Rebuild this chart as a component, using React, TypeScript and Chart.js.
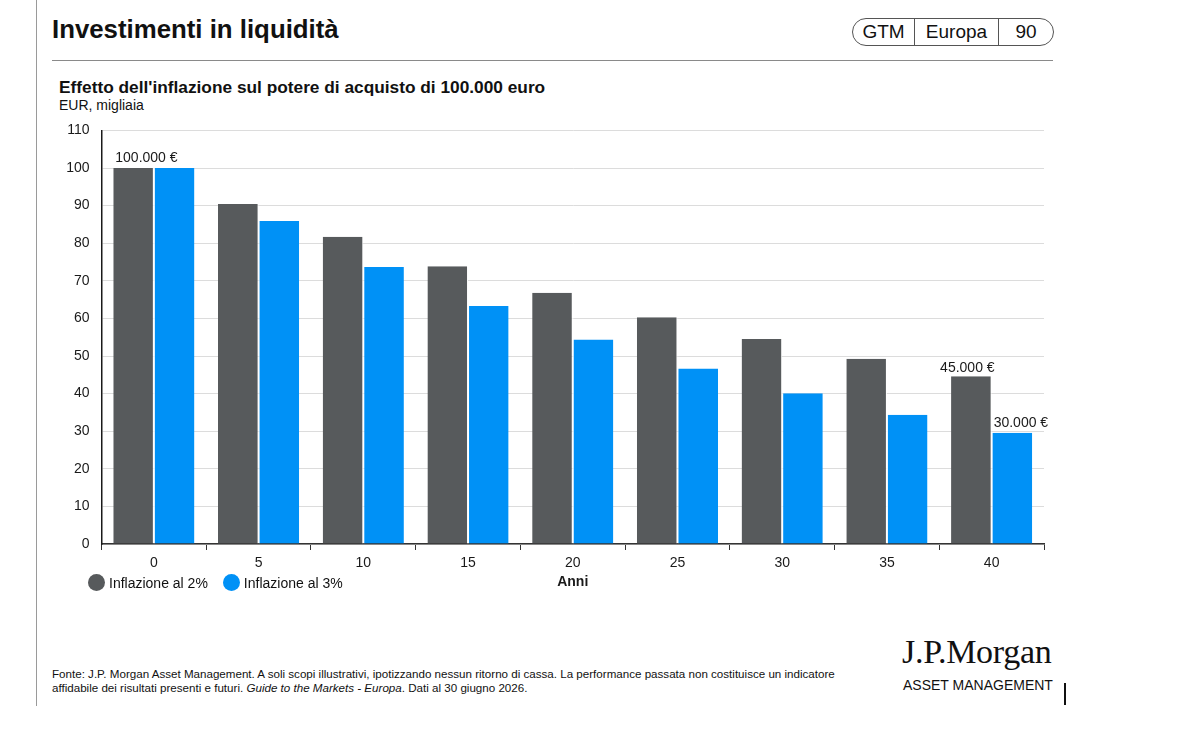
import React, { useEffect, useRef } from "react";
import { Chart, registerables } from "chart.js";

Chart.register(...registerables);

const categories = ["0", "5", "10", "15", "20", "25", "30", "35", "40"];
const inflation2 = [100, 90.4, 81.7, 73.9, 66.8, 60.3, 54.5, 49.3, 44.6];
const inflation3 = [100, 85.9, 73.7, 63.3, 54.4, 46.7, 40.1, 34.4, 29.6];
const seriesNames = ["Inflazione al 2%", "Inflazione al 3%"];
const seriesColors = ["#575a5c", "#0091f6"];
const yTicks = [0, 10, 20, 30, 40, 50, 60, 70, 80, 90, 100, 110];

// value labels: [datasetIndex, categoryIndex, text, align]
const annotations: [number, number, string, string][] = [
  [0, 0, "100.000 €", "left"],
  [0, 8, "45.000 €", "center"],
  [1, 8, "30.000 €", "left"],
];

const FONT = "'Liberation Sans', Arial, Helvetica, sans-serif";

const labelPlugin = {
  id: "valueLabels",
  afterDatasetsDraw(chart: any) {
    const ctx = chart.ctx;
    ctx.save();
    ctx.font = `14px ${FONT}`;
    ctx.fillStyle = "#1a1a1a";
    ctx.textBaseline = "alphabetic";
    annotations.forEach(([ds, idx, text, align]) => {
      const el = chart.getDatasetMeta(ds).data[idx];
      if (!el) return;
      const w = el.width;
      if (align === "left") {
        ctx.textAlign = "left";
        ctx.fillText(text, el.x - w / 2 + 2, el.y - 6);
      } else {
        ctx.textAlign = "center";
        ctx.fillText(text, el.x - 4, el.y - 4);
      }
    });
    ctx.restore();
  },
};

function BarChart() {
  const ref = useRef<HTMLCanvasElement>(null);
  useEffect(() => {
    if (!ref.current) return;
    const chart = new Chart(ref.current, {
      type: "bar",
      data: {
        labels: categories,
        datasets: [
          {
            label: seriesNames[0],
            data: inflation2,
            backgroundColor: seriesColors[0],
            borderColor: "#ffffff",
            borderWidth: { left: 0, right: 1, top: 0, bottom: 0 },
            categoryPercentage: 0.775,
            barPercentage: 1,
          },
          {
            label: seriesNames[1],
            data: inflation3,
            backgroundColor: seriesColors[1],
            borderColor: "#ffffff",
            borderWidth: { left: 1, right: 0, top: 0, bottom: 0 },
            categoryPercentage: 0.775,
            barPercentage: 1,
          },
        ],
      },
      options: {
        animation: false,
        responsive: false,
        maintainAspectRatio: false,
        layout: { padding: { top: 16, right: 16, left: 0, bottom: 0 } },
        plugins: {
          legend: { display: false },
          tooltip: { enabled: false },
        },
        scales: {
          x: {
            grid: {
              display: true,
              offset: true,
              drawOnChartArea: false,
              drawTicks: true,
              tickLength: 6,
              color: "#333",
              lineWidth: 1,
            },
            border: { display: true, color: "#333", width: 1.5 },
            ticks: {
              color: "#1a1a1a",
              font: { family: FONT, size: 14 },
              padding: 5,
            },
            title: {
              display: true,
              text: "Anni",
              color: "#1a1a1a",
              font: { family: FONT, size: 14, weight: "bold" },
              padding: { top: 0, bottom: 9 },
            },
            afterFit(scale: any) {
              scale.height = 56;
            },
          },
          y: {
            min: 0,
            max: 110,
            afterBuildTicks(scale: any) {
              scale.ticks = yTicks.map((v) => ({ value: v }));
            },
            grid: {
              color: "#dcdcdc",
              lineWidth: 1,
              drawTicks: false,
            },
            border: { display: true, color: "#1a1a1a", width: 1.5 },
            ticks: {
              color: "#1a1a1a",
              font: { family: FONT, size: 14 },
              padding: 12,
            },
            afterFit(scale: any) {
              scale.width = 61.5;
            },
          },
        },
      },
      plugins: [labelPlugin],
    });
    return () => chart.destroy();
  }, []);
  return (
    <canvas
      ref={ref}
      width={1020}
      height={490}
      style={{ position: "absolute", left: 40, top: 110, width: 1020, height: 490 }}
    />
  );
}

export default function App() {
  const abs = (o: any) => ({ position: "absolute" as const, ...o });
  return (
    <div style={{ fontFamily: FONT, color: "#111" }}>
      <div style={abs({ left: 0, top: 0, width: 1178, height: 738, background: "#fff" })} />
      {/* left vertical rule */}
      <div style={abs({ left: 36, top: 0, width: 1, height: 706, background: "#9a9a9a" })} />
      {/* title */}
      <div style={abs({ left: 52, top: 15, fontSize: 25.8, fontWeight: "bold", whiteSpace: "nowrap" })}>
        Investimenti in liquidità
      </div>
      {/* pill */}
      <div
        style={abs({
          left: 852,
          top: 18,
          width: 200,
          height: 26,
          border: "1px solid #555",
          borderRadius: 14,
          display: "flex",
          fontSize: 19,
          lineHeight: "26px",
          overflow: "hidden",
        })}
      >
        <div style={{ width: 61, textAlign: "center", borderRight: "1px solid #555" }}>GTM</div>
        <div style={{ width: 83, textAlign: "center", borderRight: "1px solid #555" }}>Europa</div>
        <div style={{ flex: 1, textAlign: "center" }}>90</div>
      </div>
      {/* header rule */}
      <div style={abs({ left: 52, top: 60, width: 1001, height: 1, background: "#8a8a8a" })} />
      {/* subtitle */}
      <div style={abs({ left: 59, top: 77, fontSize: 17.3, fontWeight: "bold", whiteSpace: "nowrap" })}>
        Effetto dell'inflazione sul potere di acquisto di 100.000 euro
      </div>
      <div style={abs({ left: 59, top: 97, fontSize: 14, whiteSpace: "nowrap" })}>EUR, migliaia</div>

      <BarChart />

      {/* legend */}
      <div style={abs({ left: 88, top: 574, display: "flex", alignItems: "center", fontSize: 14, whiteSpace: "nowrap" })}>
        {seriesNames.map((n, i) => (
          <div key={n} style={{ display: "flex", alignItems: "center", marginRight: 15 }}>
            <span
              style={{
                display: "inline-block",
                width: 17,
                height: 17,
                borderRadius: "50%",
                background: seriesColors[i],
                marginRight: 4,
              }}
            />
            <span>{n}</span>
          </div>
        ))}
      </div>

      {/* footer */}
      <div style={abs({ left: 52, top: 667, fontSize: 11.6, lineHeight: "14px", whiteSpace: "nowrap", color: "#111" })}>
        Fonte: J.P. Morgan Asset Management. A soli scopi illustrativi, ipotizzando nessun ritorno di cassa. La
        performance passata non costituisce un indicatore
        <br />
        affidabile dei risultati presenti e futuri. <i>Guide to the Markets - Europa</i>. Dati al 30 giugno 2026.
      </div>
      <div
        style={abs({
          left: 902,
          top: 633,
          fontSize: 34,
          fontFamily: "'Liberation Serif', 'Times New Roman', serif",
          letterSpacing: -0.3,
          whiteSpace: "nowrap",
          color: "#111",
        })}
      >
        J.P.Morgan
      </div>
      <div style={abs({ left: 903, top: 677, fontSize: 14, whiteSpace: "nowrap", color: "#111" })}>
        ASSET MANAGEMENT
      </div>
      <div style={abs({ left: 1064, top: 683, width: 2, height: 22, background: "#111" })} />
    </div>
  );
}
